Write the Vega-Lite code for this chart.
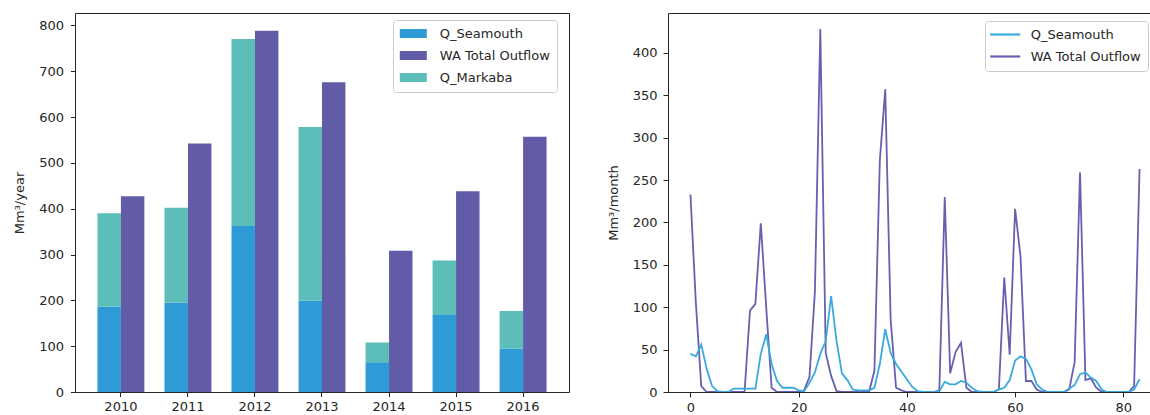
{
  "$schema": "https://vega.github.io/schema/vega-lite/v6.json",
  "background": "white",
  "padding": {"left": 13, "top": 12, "right": 0, "bottom": 0},
  "spacing": 99,
  "bounds": "flush",
  "config": {
    "font": "DejaVu Sans",
    "view": {"stroke": "#262626", "strokeWidth": 1},
    "axis": {"domain": false, "grid": false, "tickColor": "#262626", "tickSize": 4.5, "labelFont": "DejaVu Sans", "labelFontSize": 13, "labelColor": "#262626", "titleFont": "DejaVu Sans", "titleFontSize": 13, "titleFontWeight": "normal", "titleColor": "#262626"},
    "legend": {"labelFont": "DejaVu Sans", "labelFontSize": 13, "labelColor": "#262626", "padding": 7, "rowPadding": 8, "strokeColor": "#cccccc", "fillColor": "white", "cornerRadius": 3, "labelLimit": 300}
  },
  "datasets": {
    "annual": [
      {"year": "2010", "series": "Q_Seamouth", "group": "inflow", "value": 186},
      {"year": "2010", "series": "Q_Markaba", "group": "inflow", "value": 204},
      {"year": "2010", "series": "WA Total Outflow", "group": "outflow", "value": 427},
      {"year": "2011", "series": "Q_Seamouth", "group": "inflow", "value": 195},
      {"year": "2011", "series": "Q_Markaba", "group": "inflow", "value": 207},
      {"year": "2011", "series": "WA Total Outflow", "group": "outflow", "value": 542},
      {"year": "2012", "series": "Q_Seamouth", "group": "inflow", "value": 362},
      {"year": "2012", "series": "Q_Markaba", "group": "inflow", "value": 408},
      {"year": "2012", "series": "WA Total Outflow", "group": "outflow", "value": 788},
      {"year": "2013", "series": "Q_Seamouth", "group": "inflow", "value": 199},
      {"year": "2013", "series": "Q_Markaba", "group": "inflow", "value": 379},
      {"year": "2013", "series": "WA Total Outflow", "group": "outflow", "value": 676},
      {"year": "2014", "series": "Q_Seamouth", "group": "inflow", "value": 65},
      {"year": "2014", "series": "Q_Markaba", "group": "inflow", "value": 43},
      {"year": "2014", "series": "WA Total Outflow", "group": "outflow", "value": 308},
      {"year": "2015", "series": "Q_Seamouth", "group": "inflow", "value": 168},
      {"year": "2015", "series": "Q_Markaba", "group": "inflow", "value": 119},
      {"year": "2015", "series": "WA Total Outflow", "group": "outflow", "value": 438},
      {"year": "2016", "series": "Q_Seamouth", "group": "inflow", "value": 95},
      {"year": "2016", "series": "Q_Markaba", "group": "inflow", "value": 82},
      {"year": "2016", "series": "WA Total Outflow", "group": "outflow", "value": 557}
    ],
    "monthly": [
      {"month": 0, "series": "WA Total Outflow", "value": 233},
      {"month": 1, "series": "WA Total Outflow", "value": 105},
      {"month": 2, "series": "WA Total Outflow", "value": 7},
      {"month": 3, "series": "WA Total Outflow", "value": 0},
      {"month": 4, "series": "WA Total Outflow", "value": 0},
      {"month": 5, "series": "WA Total Outflow", "value": 0},
      {"month": 6, "series": "WA Total Outflow", "value": 0},
      {"month": 7, "series": "WA Total Outflow", "value": 0},
      {"month": 8, "series": "WA Total Outflow", "value": 0},
      {"month": 9, "series": "WA Total Outflow", "value": 0},
      {"month": 10, "series": "WA Total Outflow", "value": 0},
      {"month": 11, "series": "WA Total Outflow", "value": 96},
      {"month": 12, "series": "WA Total Outflow", "value": 104},
      {"month": 13, "series": "WA Total Outflow", "value": 199},
      {"month": 14, "series": "WA Total Outflow", "value": 100},
      {"month": 15, "series": "WA Total Outflow", "value": 5},
      {"month": 16, "series": "WA Total Outflow", "value": 0},
      {"month": 17, "series": "WA Total Outflow", "value": 0},
      {"month": 18, "series": "WA Total Outflow", "value": 0},
      {"month": 19, "series": "WA Total Outflow", "value": 0},
      {"month": 20, "series": "WA Total Outflow", "value": 0},
      {"month": 21, "series": "WA Total Outflow", "value": 2},
      {"month": 22, "series": "WA Total Outflow", "value": 18},
      {"month": 23, "series": "WA Total Outflow", "value": 118},
      {"month": 24, "series": "WA Total Outflow", "value": 428},
      {"month": 25, "series": "WA Total Outflow", "value": 46},
      {"month": 26, "series": "WA Total Outflow", "value": 19},
      {"month": 27, "series": "WA Total Outflow", "value": 1},
      {"month": 28, "series": "WA Total Outflow", "value": 0},
      {"month": 29, "series": "WA Total Outflow", "value": 0},
      {"month": 30, "series": "WA Total Outflow", "value": 0},
      {"month": 31, "series": "WA Total Outflow", "value": 0},
      {"month": 32, "series": "WA Total Outflow", "value": 0},
      {"month": 33, "series": "WA Total Outflow", "value": 0},
      {"month": 34, "series": "WA Total Outflow", "value": 25},
      {"month": 35, "series": "WA Total Outflow", "value": 273},
      {"month": 36, "series": "WA Total Outflow", "value": 357},
      {"month": 37, "series": "WA Total Outflow", "value": 85},
      {"month": 38, "series": "WA Total Outflow", "value": 5},
      {"month": 39, "series": "WA Total Outflow", "value": 2},
      {"month": 40, "series": "WA Total Outflow", "value": 0},
      {"month": 41, "series": "WA Total Outflow", "value": 0},
      {"month": 42, "series": "WA Total Outflow", "value": 0},
      {"month": 43, "series": "WA Total Outflow", "value": 0},
      {"month": 44, "series": "WA Total Outflow", "value": 0},
      {"month": 45, "series": "WA Total Outflow", "value": 0},
      {"month": 46, "series": "WA Total Outflow", "value": 2},
      {"month": 47, "series": "WA Total Outflow", "value": 230},
      {"month": 48, "series": "WA Total Outflow", "value": 22},
      {"month": 49, "series": "WA Total Outflow", "value": 47},
      {"month": 50, "series": "WA Total Outflow", "value": 58},
      {"month": 51, "series": "WA Total Outflow", "value": 5},
      {"month": 52, "series": "WA Total Outflow", "value": 0},
      {"month": 53, "series": "WA Total Outflow", "value": 0},
      {"month": 54, "series": "WA Total Outflow", "value": 0},
      {"month": 55, "series": "WA Total Outflow", "value": 0},
      {"month": 56, "series": "WA Total Outflow", "value": 0},
      {"month": 57, "series": "WA Total Outflow", "value": 3},
      {"month": 58, "series": "WA Total Outflow", "value": 135},
      {"month": 59, "series": "WA Total Outflow", "value": 44},
      {"month": 60, "series": "WA Total Outflow", "value": 216},
      {"month": 61, "series": "WA Total Outflow", "value": 160},
      {"month": 62, "series": "WA Total Outflow", "value": 13},
      {"month": 63, "series": "WA Total Outflow", "value": 13},
      {"month": 64, "series": "WA Total Outflow", "value": 3},
      {"month": 65, "series": "WA Total Outflow", "value": 0},
      {"month": 66, "series": "WA Total Outflow", "value": 0},
      {"month": 67, "series": "WA Total Outflow", "value": 0},
      {"month": 68, "series": "WA Total Outflow", "value": 0},
      {"month": 69, "series": "WA Total Outflow", "value": 0},
      {"month": 70, "series": "WA Total Outflow", "value": 3},
      {"month": 71, "series": "WA Total Outflow", "value": 35},
      {"month": 72, "series": "WA Total Outflow", "value": 259},
      {"month": 73, "series": "WA Total Outflow", "value": 14},
      {"month": 74, "series": "WA Total Outflow", "value": 16},
      {"month": 75, "series": "WA Total Outflow", "value": 5},
      {"month": 76, "series": "WA Total Outflow", "value": 0},
      {"month": 77, "series": "WA Total Outflow", "value": 0},
      {"month": 78, "series": "WA Total Outflow", "value": 0},
      {"month": 79, "series": "WA Total Outflow", "value": 0},
      {"month": 80, "series": "WA Total Outflow", "value": 0},
      {"month": 81, "series": "WA Total Outflow", "value": 0},
      {"month": 82, "series": "WA Total Outflow", "value": 7},
      {"month": 83, "series": "WA Total Outflow", "value": 263},
      {"month": 0, "series": "Q_Seamouth", "value": 45},
      {"month": 1, "series": "Q_Seamouth", "value": 42},
      {"month": 2, "series": "Q_Seamouth", "value": 56},
      {"month": 3, "series": "Q_Seamouth", "value": 27},
      {"month": 4, "series": "Q_Seamouth", "value": 7},
      {"month": 5, "series": "Q_Seamouth", "value": 1},
      {"month": 6, "series": "Q_Seamouth", "value": 0},
      {"month": 7, "series": "Q_Seamouth", "value": 0},
      {"month": 8, "series": "Q_Seamouth", "value": 4},
      {"month": 9, "series": "Q_Seamouth", "value": 4},
      {"month": 10, "series": "Q_Seamouth", "value": 4},
      {"month": 11, "series": "Q_Seamouth", "value": 4},
      {"month": 12, "series": "Q_Seamouth", "value": 4},
      {"month": 13, "series": "Q_Seamouth", "value": 45},
      {"month": 14, "series": "Q_Seamouth", "value": 68},
      {"month": 15, "series": "Q_Seamouth", "value": 33},
      {"month": 16, "series": "Q_Seamouth", "value": 13},
      {"month": 17, "series": "Q_Seamouth", "value": 5},
      {"month": 18, "series": "Q_Seamouth", "value": 5},
      {"month": 19, "series": "Q_Seamouth", "value": 5},
      {"month": 20, "series": "Q_Seamouth", "value": 2},
      {"month": 21, "series": "Q_Seamouth", "value": 1},
      {"month": 22, "series": "Q_Seamouth", "value": 11},
      {"month": 23, "series": "Q_Seamouth", "value": 23},
      {"month": 24, "series": "Q_Seamouth", "value": 45},
      {"month": 25, "series": "Q_Seamouth", "value": 60},
      {"month": 26, "series": "Q_Seamouth", "value": 113},
      {"month": 27, "series": "Q_Seamouth", "value": 60},
      {"month": 28, "series": "Q_Seamouth", "value": 22},
      {"month": 29, "series": "Q_Seamouth", "value": 14},
      {"month": 30, "series": "Q_Seamouth", "value": 3},
      {"month": 31, "series": "Q_Seamouth", "value": 2},
      {"month": 32, "series": "Q_Seamouth", "value": 2},
      {"month": 33, "series": "Q_Seamouth", "value": 2},
      {"month": 34, "series": "Q_Seamouth", "value": 5},
      {"month": 35, "series": "Q_Seamouth", "value": 33},
      {"month": 36, "series": "Q_Seamouth", "value": 74},
      {"month": 37, "series": "Q_Seamouth", "value": 46},
      {"month": 38, "series": "Q_Seamouth", "value": 33},
      {"month": 39, "series": "Q_Seamouth", "value": 24},
      {"month": 40, "series": "Q_Seamouth", "value": 15},
      {"month": 41, "series": "Q_Seamouth", "value": 6},
      {"month": 42, "series": "Q_Seamouth", "value": 1},
      {"month": 43, "series": "Q_Seamouth", "value": 0},
      {"month": 44, "series": "Q_Seamouth", "value": 0},
      {"month": 45, "series": "Q_Seamouth", "value": 0},
      {"month": 46, "series": "Q_Seamouth", "value": 1},
      {"month": 47, "series": "Q_Seamouth", "value": 12},
      {"month": 48, "series": "Q_Seamouth", "value": 9},
      {"month": 49, "series": "Q_Seamouth", "value": 9},
      {"month": 50, "series": "Q_Seamouth", "value": 13},
      {"month": 51, "series": "Q_Seamouth", "value": 11},
      {"month": 52, "series": "Q_Seamouth", "value": 5},
      {"month": 53, "series": "Q_Seamouth", "value": 1},
      {"month": 54, "series": "Q_Seamouth", "value": 0},
      {"month": 55, "series": "Q_Seamouth", "value": 0},
      {"month": 56, "series": "Q_Seamouth", "value": 0},
      {"month": 57, "series": "Q_Seamouth", "value": 3},
      {"month": 58, "series": "Q_Seamouth", "value": 5},
      {"month": 59, "series": "Q_Seamouth", "value": 14},
      {"month": 60, "series": "Q_Seamouth", "value": 37},
      {"month": 61, "series": "Q_Seamouth", "value": 42},
      {"month": 62, "series": "Q_Seamouth", "value": 39},
      {"month": 63, "series": "Q_Seamouth", "value": 27},
      {"month": 64, "series": "Q_Seamouth", "value": 9},
      {"month": 65, "series": "Q_Seamouth", "value": 3},
      {"month": 66, "series": "Q_Seamouth", "value": 0},
      {"month": 67, "series": "Q_Seamouth", "value": 0},
      {"month": 68, "series": "Q_Seamouth", "value": 0},
      {"month": 69, "series": "Q_Seamouth", "value": 0},
      {"month": 70, "series": "Q_Seamouth", "value": 4},
      {"month": 71, "series": "Q_Seamouth", "value": 8},
      {"month": 72, "series": "Q_Seamouth", "value": 21},
      {"month": 73, "series": "Q_Seamouth", "value": 23},
      {"month": 74, "series": "Q_Seamouth", "value": 17},
      {"month": 75, "series": "Q_Seamouth", "value": 13},
      {"month": 76, "series": "Q_Seamouth", "value": 3},
      {"month": 77, "series": "Q_Seamouth", "value": 0},
      {"month": 78, "series": "Q_Seamouth", "value": 0},
      {"month": 79, "series": "Q_Seamouth", "value": 0},
      {"month": 80, "series": "Q_Seamouth", "value": 0},
      {"month": 81, "series": "Q_Seamouth", "value": 0},
      {"month": 82, "series": "Q_Seamouth", "value": 3},
      {"month": 83, "series": "Q_Seamouth", "value": 15}
    ]
  },
  "resolve": {"scale": {"color": "independent", "x": "independent", "y": "independent"}, "legend": {"color": "independent"}},
  "hconcat": [
    {
      "width": 494,
      "height": 379,
      "data": {"name": "annual"},
      "mark": {"type": "bar"},
      "encoding": {
        "x": {"field": "year", "type": "nominal", "scale": {"paddingInner": 0.3, "paddingOuter": 0.335}, "axis": {"title": null, "labelAngle": 0, "labelPadding": 4, "tickSize": 4.5}},
        "xOffset": {"field": "group", "type": "nominal", "scale": {"domain": ["inflow", "outflow"], "paddingInner": 0, "paddingOuter": 0}},
        "y": {"field": "value", "type": "quantitative", "stack": "zero", "scale": {"domain": [0, 827], "nice": false}, "axis": {"title": "Mm³/year", "values": [0, 100, 200, 300, 400, 500, 600, 700, 800], "labelPadding": 7, "titlePadding": 12}},
        "color": {"field": "series", "type": "nominal", "scale": {"domain": ["Q_Seamouth", "WA Total Outflow", "Q_Markaba"], "range": ["#2E9BD6", "#625BA8", "#5DBDB8"]}, "legend": {"orient": "none", "legendX": 318, "legendY": 7, "title": null, "symbolType": "M-3,-1H3V1H-3Z", "symbolSize": 81, "symbolOffset": 6.8, "symbolStrokeWidth": 0, "symbolOpacity": 1, "labelOffset": 20}},
        "order": {"field": "series", "sort": "descending"}
      }
    },
    {
      "width": 494,
      "height": 379,
      "data": {"name": "monthly"},
      "mark": {"type": "line", "strokeWidth": 1.8, "clip": true},
      "encoding": {
        "x": {"field": "month", "type": "quantitative", "scale": {"domain": [-4.15, 87.15], "nice": false, "zero": false}, "axis": {"title": null, "values": [0, 20, 40, 60, 80], "labelPadding": 4, "tickSize": 5}},
        "y": {"field": "value", "type": "quantitative", "scale": {"domain": [0, 447], "nice": false}, "axis": {"title": "Mm³/month", "values": [0, 50, 100, 150, 200, 250, 300, 350, 400], "labelPadding": 6, "tickSize": 5, "titlePadding": 12}},
        "color": {"field": "series", "type": "nominal", "scale": {"domain": ["Q_Seamouth", "WA Total Outflow"], "range": ["#3AA9DE", "#6760B0"]}, "legend": {"orient": "none", "legendX": 317, "legendY": 8, "title": null, "symbolType": "M-3,0H3", "symbolSize": 100, "symbolOffset": 6.7, "symbolStrokeWidth": 2.2, "labelOffset": 19}}
      }
    }
  ]
}
